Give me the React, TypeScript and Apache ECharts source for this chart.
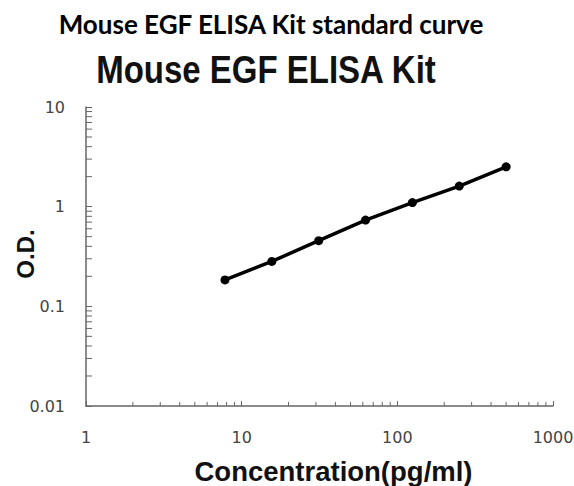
import React, { useEffect, useRef } from "react";
import * as echarts from "echarts";

const concentrations = [7.8125, 15.625, 31.25, 62.5, 125, 250, 500];
const odValues = [0.184, 0.282, 0.456, 0.734, 1.1, 1.61, 2.51];
const xTickLabels = ["1", "10", "100", "1000"];
const yTickLabels = ["0.01", "0.1", "1", "10"];
const xMinorTicks = [2, 3, 4, 5, 6, 7, 8, 9, 20, 30, 40, 50, 60, 70, 80, 90, 200, 300, 400, 500, 600, 700, 800, 900];
const yMinorTicks = [0.02, 0.03, 0.04, 0.05, 0.06, 0.07, 0.08, 0.09, 0.2, 0.3, 0.4, 0.5, 0.6, 0.7, 0.8, 0.9, 2, 3, 4, 5, 6, 7, 8, 9];

const mainTitle = "Mouse EGF ELISA Kit standard curve";
const subTitle = "Mouse EGF ELISA Kit";
const xName = "Concentration(pg/ml)";
const yName = "O.D.";

export default function App() {
  const ref = useRef<HTMLDivElement>(null);
  useEffect(() => {
    if (!ref.current) return;
    const chart = echarts.init(ref.current, null, { renderer: "svg" });
    const axisColor = "#666";
    const tickFont = "'DejaVu Sans', Verdana, sans-serif";
    chart.setOption({
      animation: false,
      backgroundColor: "#fff",
      grid: {
        left: 86,
        top: 107,
        width: 467,
        height: 299,
        containLabel: false,
        outerBoundsMode: "none",
      },
      graphic: [
        {
          type: "text",
          x: 271,
          y: 24,
          style: {
            text: mainTitle,
            font: "bold 26px Lato, 'Open Sans', sans-serif",
            fill: "#000",
            textAlign: "center",
            textVerticalAlign: "middle",
          },
        },
        {
          type: "text",
          x: 266,
          y: 70,
          scaleY: 1.15,
          style: {
            text: subTitle,
            font: "bold 33px 'Liberation Sans', Arial, sans-serif",
            fill: "#111",
            textAlign: "center",
            textVerticalAlign: "middle",
          },
        },
        {
          type: "text",
          x: 25,
          y: 254,
          rotation: Math.PI / 2,
          style: {
            text: yName,
            font: "bold 24px 'Liberation Sans', Arial, sans-serif",
            fill: "#111",
            textAlign: "center",
            textVerticalAlign: "middle",
          },
        },
      ],
      xAxis: {
        type: "log",
        logBase: 10,
        min: 1,
        max: 1000,
        name: xName,
        nameLocation: "middle",
        nameGap: 51,
        nameTextStyle: {
          fontFamily: "'Liberation Sans', Arial, sans-serif",
          fontWeight: "bold",
          fontSize: 27.5,
          color: "#111",
          padding: [0, 0, 0, 28],
        },
        axisLine: { show: true, lineStyle: { color: axisColor, width: 1.5 } },
        axisTick: { show: true, inside: true, length: 5, lineStyle: { color: axisColor } },
        axisLabel: {
          margin: 23,
          fontFamily: tickFont,
          fontSize: 16,
          color: "#444",
          formatter: (v: number) => xTickLabels[Math.round(Math.log10(v))],
        },
        splitLine: { show: false },
      },
      yAxis: {
        type: "log",
        logBase: 10,
        min: 0.01,
        max: 10,
        axisLine: { show: true, lineStyle: { color: axisColor, width: 1.5 } },
        axisTick: { show: true, inside: true, length: 6, lineStyle: { color: axisColor } },
        axisLabel: {
          margin: 21,
          fontFamily: tickFont,
          fontSize: 16,
          color: "#444",
          formatter: (v: number) => yTickLabels[Math.round(Math.log10(v)) + 2],
        },
        splitLine: { show: false },
      },
      series: [
        {
          type: "custom",
          silent: true,
          clip: false,
          data: xMinorTicks.map((v) => [v, 0.01]),
          renderItem: (params: any, api: any) => {
            const p = api.coord([api.value(0), api.value(1)]);
            return {
              type: "line",
              shape: { x1: p[0], y1: p[1], x2: p[0], y2: p[1] - 4 },
              style: { stroke: axisColor, lineWidth: 1 },
            };
          },
          z: 1,
        },
        {
          type: "custom",
          silent: true,
          clip: false,
          data: yMinorTicks.map((v) => [1, v]),
          renderItem: (params: any, api: any) => {
            const p = api.coord([api.value(0), api.value(1)]);
            return {
              type: "line",
              shape: { x1: p[0], y1: p[1], x2: p[0] + 6, y2: p[1] },
              style: { stroke: axisColor, lineWidth: 1 },
            };
          },
          z: 1,
        },
        {
          type: "line",
          data: concentrations.map((c, i) => [c, odValues[i]]),
          symbol: "circle",
          symbolSize: 9,
          lineStyle: { color: "#000", width: 3.5 },
          itemStyle: { color: "#000" },
          z: 3,
        },
      ],
    });
    return () => chart.dispose();
  }, []);
  return (
    <div
      ref={ref}
      style={{ position: "fixed", left: 0, top: 0, width: 574, height: 486, background: "#fff" }}
    />
  );
}
